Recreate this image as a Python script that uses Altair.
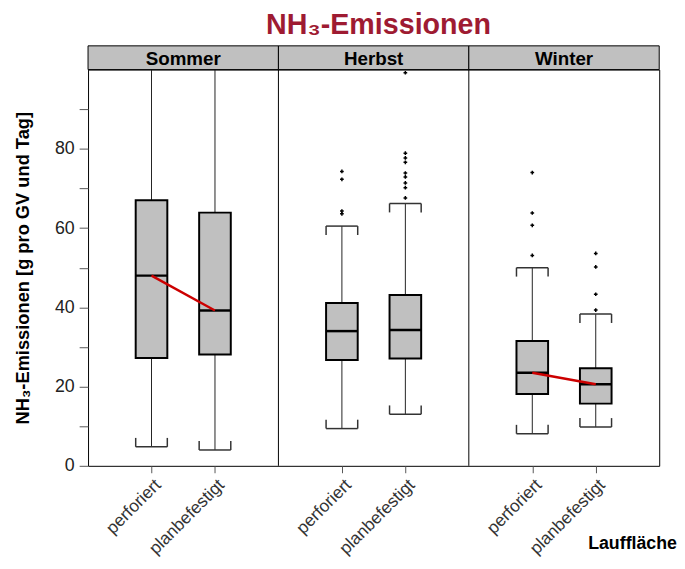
import altair as alt
import pandas as pd

seasons = ["Sommer", "Herbst", "Winter"]
surfaces = ["perforiert", "planbefestigt"]

# box statistics per season: [perforiert, planbefestigt]
whisker_low = [[4.8, 4.0], [9.4, 13.0], [8.1, 9.8]]
q1 = [[27.2, 28.1], [26.7, 27.1], [18.1, 15.7]]
median = [[48.0, 39.2], [34.0, 34.3], [23.5, 20.6]]
q3 = [[67.0, 63.9], [41.1, 43.1], [31.5, 24.6]]
whisker_high = [[100.0, 100.0], [60.5, 66.2], [50.0, 38.3]]

outliers = {
    ("Herbst", "perforiert"): [74.3, 72.3, 64.3, 63.6],
    ("Herbst", "planbefestigt"): [99.2, 78.9, 77.7, 76.6, 73.9, 72.9, 71.4, 70.2, 67.6],
    ("Winter", "perforiert"): [74.0, 63.8, 60.7, 53.1],
    ("Winter", "planbefestigt"): [53.6, 50.2, 43.3, 39.3],
}
red_line = [True, False, True]

y_ticks = [0, 10, 20, 30, 40, 50, 60, 70, 80, 90]

FONT = "Liberation Sans"
BOXW = 32
STRIP = 24
GRAY = "#c0c0c0"
CAP = "#333333"

# ---- tables built from the arrays above ----
rows, out_rows, strip_rows = [], [], []
for i, s in enumerate(seasons):
    strip_rows.append({"season": s, "start": i * 3, "end": i * 3 + 3, "mid": i * 3 + 1.5})
    for j, surf in enumerate(surfaces):
        pos = i * 3 + j + 1
        rows.append({
            "season": s, "surface": surf, "pos": pos,
            "low": whisker_low[i][j], "q1": q1[i][j], "median": median[i][j],
            "q3": q3[i][j], "high": whisker_high[i][j], "red": red_line[i],
        })
        for v in outliers.get((s, surf), []):
            out_rows.append({"pos": pos, "value": v})
df = pd.DataFrame(rows)
df_out = pd.DataFrame(out_rows)
df_strip = pd.DataFrame(strip_rows)
df_sep = pd.DataFrame({"x": [3, 6]})

xscale = alt.Scale(domain=[0, 9], nice=False, zero=False, padding=0)
yscale = alt.Scale(domain=[0, 100], nice=False, padding=0)

xaxis = alt.Axis(
    values=[1, 2, 4, 5, 7, 8],
    labelExpr="datum.value % 3 == 1 ? 'perforiert' : 'planbefestigt'",
    labelAngle=-45,
    labelFontSize=17.5,
    labelFont=FONT,
    labelColor="#333333",
    labelPadding=3,
    labelOverlap=False,
    tickSize=7,
    tickColor="#555555",
    domain=False,
    grid=False,
    title=None,
)
yaxis = alt.Axis(
    values=y_ticks,
    labelExpr="datum.value % 20 == 0 ? datum.label : ''",
    labelFontSize=18,
    labelFont=FONT,
    labelColor="#222222",
    labelPadding=5,
    labelOverlap=False,
    tickSize=9,
    tickColor="#555555",
    domain=False,
    grid=False,
    title="NH₃-Emissionen [g pro GV und Tag]",
    titleFont=FONT,
    titleFontSize=18.5,
    titleFontWeight="bold",
    titleColor="black",
    titlePadding=22,
)

X = alt.X("pos:Q", scale=xscale, axis=xaxis)


def Y(field):
    return alt.Y(f"{field}:Q", scale=yscale, axis=yaxis)


base = alt.Chart(df)
whisk_lo = base.mark_rule(color="#222222", strokeWidth=1).encode(x=X, y=Y("low"), y2="q1")
whisk_hi = base.mark_rule(color="#222222", strokeWidth=1).encode(x=X, y=Y("q3"), y2="high")
box = base.mark_bar(size=BOXW, fill=GRAY, stroke="black", strokeWidth=2).encode(x=X, y=Y("q1"), y2="q3")
med = base.mark_rule(color="black", strokeWidth=2.5, xOffset=-BOXW / 2, x2Offset=BOXW / 2).encode(
    x=X, x2="pos:Q", y=Y("median")
)
cap_lo = base.mark_rule(color=CAP, strokeWidth=1.5, xOffset=-BOXW / 2, x2Offset=BOXW / 2).encode(
    x=X, x2="pos:Q", y=Y("low")
)
cap_lo_l = base.mark_rule(color=CAP, strokeWidth=1.5, xOffset=-BOXW / 2, y2Offset=-9).encode(
    x=X, y=Y("low"), y2="low:Q"
)
cap_lo_r = base.mark_rule(color=CAP, strokeWidth=1.5, xOffset=BOXW / 2, y2Offset=-9).encode(
    x=X, y=Y("low"), y2="low:Q"
)
hi_base = base.transform_filter("datum.high < 100")
cap_hi = hi_base.mark_rule(color=CAP, strokeWidth=1.5, xOffset=-BOXW / 2, x2Offset=BOXW / 2).encode(
    x=X, x2="pos:Q", y=Y("high")
)
cap_hi_l = hi_base.mark_rule(color=CAP, strokeWidth=1.5, xOffset=-BOXW / 2, y2Offset=9).encode(
    x=X, y=Y("high"), y2="high:Q"
)
cap_hi_r = hi_base.mark_rule(color=CAP, strokeWidth=1.5, xOffset=BOXW / 2, y2Offset=9).encode(
    x=X, y=Y("high"), y2="high:Q"
)
pts = alt.Chart(df_out).mark_point(shape="cross", size=14, filled=True, color="black", opacity=1).encode(
    x=X, y=Y("value")
)
red = base.transform_filter("datum.red").mark_line(color="#cc0000", strokeWidth=2.5).encode(
    x=X, y=Y("median"), detail="season:N"
)

sep = alt.Chart(df_sep).mark_rule(color="black", strokeWidth=1).encode(
    x=alt.X("x:Q", scale=xscale, axis=xaxis), y=alt.datum(0, scale=yscale), y2=alt.datum(100)
)
strip = alt.Chart(df_strip).mark_rect(fill=GRAY, stroke="black", strokeWidth=1).encode(
    x=alt.X("start:Q", scale=xscale, axis=xaxis), x2="end:Q", y=alt.value(-STRIP), y2=alt.value(0)
)
strip_txt = alt.Chart(df_strip).mark_text(
    font=FONT, fontSize=19, fontWeight="bold", color="black", baseline="middle"
).encode(x=alt.X("mid:Q", scale=xscale, axis=xaxis), y=alt.value(-STRIP / 2 + 1), text="season:N")

xtitle = alt.Chart(pd.DataFrame({"t": ["Lauffläche"]})).mark_text(
    font=FONT, fontSize=18, fontWeight="bold", color="black", align="right",
    baseline="alphabetic", dx=18, dy=84,
).encode(x=alt.datum(9, scale=xscale), y=alt.datum(0, scale=yscale), text="t:N")

chart = alt.layer(
    whisk_lo, whisk_hi, cap_lo, cap_lo_l, cap_lo_r, cap_hi, cap_hi_l, cap_hi_r,
    box, med, pts, red, sep, strip, strip_txt, xtitle,
).properties(
    width=677,
    height=553,
    autosize=alt.AutoSizeParams(type="fit", contains="padding"),
    padding={"left": 5, "top": 0, "right": 0, "bottom": 0},
    title=alt.Title(
        "NH₃-Emissionen",
        font=FONT,
        fontSize=29,
        fontWeight="bold",
        color="#9e1b32",
        anchor="middle",
        offset=5,
        dx=5,
    ),
).configure_view(stroke="black", strokeWidth=1)

chart.save("out.html", embed_options={"renderer": "svg", "actions": False})
